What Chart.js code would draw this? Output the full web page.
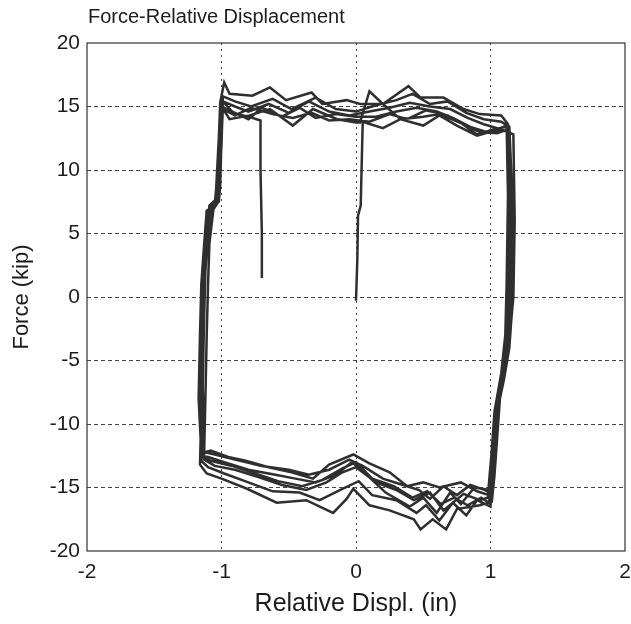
<!DOCTYPE html>
<html>
<head>
<meta charset="utf-8">
<script src="https://cdn.jsdelivr.net/npm/chart.js@4"></script>
<style>
  html, body { margin: 0; padding: 0; background: #fff; }
  #wrap { width: 631px; height: 624px; }
</style>
</head>
<body>
<div id="wrap"><canvas id="chart" width="631" height="624"></canvas></div>
<script>
// axis ticks
const xTicks = [-2, -1, 0, 1, 2];
const yTicks = [-20, -15, -10, -5, 0, 5, 10, 15, 20];

// cycles, [displ (in), force (kip)]
// first loading from the origin, then right down and back along the bottom
const cycle1 = [[0,-0.3],[0.01,3],[0.015,6.4],[0.035,7.2],[0.05,13.8],[0.2,13.3],[0.33,14.0],[0.5,14.2],[0.62,14.4],[0.78,13.7],[0.9,12.8],[1.02,13.2],[1.12,13.4],[1.14,8],[1.14,2],[1.13,-2],[1.1,-5],[1.05,-8],[1.03,-11],[1.01,-14],[0.99,-15.6],[0.9,-15.3],[0.78,-14.6],[0.62,-15.0],[0.5,-14.6],[0.38,-14.9],[0.25,-13.8],[0.1,-13.1],[-0.02,-12.4],[-0.2,-13.2],[-0.32,-14.3],[-0.48,-13.8],[-0.65,-13.4],[-0.82,-12.9],[-0.95,-12.6],[-1.08,-12.1],[-1.15,-12.3]];
const cycle2 = [[-1.17,-8],[-1.16,-3],[-1.15,1],[-1.13,4],[-1.11,6.8],[-1.05,7.2],[-1.04,8.4],[-1.02,12],[-1.01,15.3],[-0.98,16.9],[-0.94,16.0],[-0.77,15.85],[-0.64,16.5],[-0.52,15.5],[-0.33,16.1],[-0.25,15.2],[-0.07,15.5],[0.03,15.2],[0.2,15.2],[0.39,16.6],[0.48,15.7],[0.65,15.7],[0.8,14.8],[0.92,14.4],[1.08,14.3],[1.13,13.6],[1.16,8],[1.16,2],[1.15,-2],[1.12,-5],[1.07,-8],[1.05,-11],[1.03,-14],[1.01,-16.1],[0.92,-16.4],[0.75,-16.7],[0.67,-18.3],[0.57,-17.5],[0.48,-18.3],[0.43,-17.5],[0.25,-16.8],[0.1,-16.4],[-0.02,-15.1],[-0.07,-15.9],[-0.17,-17.0],[-0.37,-16.0],[-0.59,-16.2],[-0.81,-15.1],[-1.0,-14.3],[-1.11,-13.9],[-1.16,-13.2]];
const cycle3 = [[-1.15,-9],[-1.14,-4],[-1.13,0],[-1.11,4.5],[-1.08,7],[-1.03,7.5],[-1.02,8.6],[-1.0,12.5],[-1.0,15.0],[-0.94,14.0],[-0.79,14.3],[-0.64,14.8],[-0.47,13.5],[-0.32,14.8],[-0.14,14.0],[0.0,13.75],[0.03,13.75],[0.1,16.2],[0.2,15.2],[0.33,14.0],[0.5,13.5],[0.62,14.3],[0.75,13.5],[0.9,12.7],[1.0,13.0],[1.12,13.5],[1.13,8],[1.12,1],[1.11,-3],[1.08,-6],[1.03,-9],[1.01,-12],[0.99,-14.5],[0.98,-15.8],[0.92,-16.0],[0.8,-15.5],[0.65,-16.8],[0.55,-15.4],[0.43,-16.0],[0.3,-15.2],[0.15,-14.6],[0.0,-13.4],[-0.1,-13.8],[-0.22,-14.6],[-0.37,-15.2],[-0.55,-14.8],[-0.72,-14.2],[-0.9,-13.6],[-1.05,-13.3],[-1.13,-12.8]];
const cycle4 = [[-1.12,-8],[-1.11,-3],[-1.1,1],[-1.09,4.2],[-1.06,6.9],[-1.03,7.4],[-1.02,8.3],[-1.0,12],[-0.99,15.4],[-0.9,15.0],[-0.8,14.6],[-0.65,15.2],[-0.5,14.5],[-0.35,15.4],[-0.2,14.6],[-0.05,14.3],[0.1,14.6],[0.25,14.9],[0.4,15.3],[0.55,15.0],[0.7,14.8],[0.83,14.1],[0.95,13.6],[1.08,13.2],[1.13,13.0],[1.16,7],[1.15,0],[1.14,-3],[1.11,-5],[1.06,-7.5],[1.03,-10.5],[1.02,-14],[1.0,-15.2],[0.88,-15.0],[0.78,-16.3],[0.7,-15.4],[0.6,-17.0],[0.5,-15.8],[0.4,-16.5],[0.22,-15.4],[0.08,-14.0],[-0.03,-13.0],[-0.15,-14.0],[-0.3,-14.6],[-0.45,-14.3],[-0.6,-14.0],[-0.8,-13.6],[-0.95,-13.1],[-1.1,-12.6],[-1.14,-12.5]];
const cycle5 = [[-1.15,-7],[-1.14,-2],[-1.13,2],[-1.11,5],[-1.09,7.2],[-1.04,7.7],[-1.02,9],[-1.0,13],[-0.99,15.8],[-0.9,15.4],[-0.78,15.0],[-0.62,15.6],[-0.48,14.8],[-0.3,15.7],[-0.15,14.8],[0.0,14.6],[0.15,15.1],[0.3,15.5],[0.42,16.0],[0.55,15.2],[0.68,15.4],[0.82,14.5],[0.95,14.0],[1.08,13.8],[1.14,13.4],[1.17,6],[1.16,-1],[1.14,-4],[1.1,-6.5],[1.05,-9],[1.03,-12],[1.01,-15],[1.0,-16.5],[0.9,-16.0],[0.82,-17.2],[0.72,-16.2],[0.62,-17.6],[0.52,-16.4],[0.45,-17.0],[0.3,-16.0],[0.12,-15.6],[0.02,-14.5],[-0.12,-15.2],[-0.27,-16.0],[-0.42,-15.4],[-0.62,-15.3],[-0.8,-14.6],[-0.98,-13.9],[-1.1,-13.4],[-1.15,-12.9]];
const cycle6 = [[-1.16,-6],[-1.15,-1],[-1.13,3],[-1.11,5.5],[-1.08,7],[-1.03,7.6],[-1.02,8.8],[-1.01,13],[-1.0,15.5],[-0.92,14.6],[-0.8,14.0],[-0.7,14.9],[-0.55,14.2],[-0.42,14.9],[-0.3,14.1],[-0.15,14.4],[0.0,14.2],[0.15,14.2],[0.3,14.6],[0.45,14.9],[0.6,14.6],[0.72,14.1],[0.85,13.4],[0.97,13.0],[1.1,13.1],[1.17,12.8],[1.18,6],[1.17,0],[1.14,-3.5],[1.1,-6],[1.05,-9],[1.03,-12.5],[1.01,-15.5],[0.96,-15.2],[0.85,-14.8],[0.75,-15.6],[0.65,-14.9],[0.55,-15.9],[0.47,-15.2],[0.35,-14.8],[0.2,-14.3],[0.05,-13.3],[-0.05,-12.8],[-0.2,-13.6],[-0.35,-14.0],[-0.5,-13.6],[-0.7,-13.3],[-0.9,-12.8],[-1.05,-12.4],[-1.13,-12.2]];
const cycle7 = [[-1.14,-7],[-1.13,-2],[-1.12,2],[-1.1,5],[-1.07,7.1],[-1.02,7.5],[-1.01,8.7],[-1.0,12.5],[-0.99,14.8],[-0.9,14.3],[-0.78,14.9],[-0.62,14.4],[-0.47,14.1],[-0.33,14.5],[-0.2,13.9],[-0.05,14.0],[0.1,13.8],[0.25,14.4],[0.38,14.0],[0.52,14.7],[0.68,14.3],[0.8,13.6],[0.92,13.0],[1.05,12.9],[1.13,13.2],[1.15,5],[1.14,-1],[1.12,-4],[1.08,-6],[1.04,-8.5],[1.02,-11.5],[1.0,-14.5],[0.99,-16.2],[0.93,-15.8],[0.83,-16.4],[0.73,-15.8],[0.63,-16.3],[0.53,-15.3],[0.42,-15.8],[0.28,-14.9],[0.12,-14.3],[0.0,-13.0],[-0.1,-13.5],[-0.25,-14.4],[-0.4,-14.9],[-0.58,-14.5],[-0.75,-13.9],[-0.92,-13.3],[-1.08,-12.9],[-1.14,-12.6]];
// last climb, then unloading at about -0.7 in
const unload = [[-1.16,-8],[-1.15,-3],[-1.14,1],[-1.12,4.5],[-1.09,7],[-1.05,7.4],[-1.04,8.5],[-1.02,12.5],[-1.01,15.1],[-0.92,14.5],[-0.8,14.2],[-0.71,13.9],[-0.71,10],[-0.70,5],[-0.70,1.5]];

const path = [].concat(cycle1, cycle2, cycle3, cycle4, cycle5, cycle6, cycle7, unload)
  .map(p => ({ x: p[0], y: p[1] }));

const FONT = "'Liberation Sans', Arial, sans-serif";
const ink = '#1c1c1c';

// grid lines on the frame are hidden, the frame is drawn solid
const gridColor = edge => ctx => (ctx.tick && Math.abs(ctx.tick.value) === edge) ? 'rgba(0,0,0,0)' : '#454545';

const framePlugin = {
  id: 'frame',
  afterDraw(chart) {
    const { ctx, chartArea: a } = chart;
    ctx.save();
    ctx.strokeStyle = '#333';
    ctx.lineWidth = 1.2;
    ctx.strokeRect(a.left, a.top, a.right - a.left, a.bottom - a.top);
    // title, left aligned on the plot box
    ctx.fillStyle = ink;
    ctx.font = '20px ' + FONT;
    ctx.textAlign = 'left';
    ctx.textBaseline = 'middle';
    ctx.fillText('Force-Relative Displacement', a.left + 1, 17);
    ctx.restore();
  }
};

new Chart(document.getElementById('chart').getContext('2d'), {
  type: 'scatter',
  data: {
    datasets: [{
      data: path,
      showLine: true,
      borderColor: '#2f2f2f',
      borderWidth: 2.5,
      pointRadius: 0,
      tension: 0
    }]
  },
  plugins: [framePlugin],
  options: {
    responsive: false,
    animation: false,
    layout: { padding: { top: 43, right: 6, left: 0, bottom: 0 } },
    plugins: { legend: { display: false }, tooltip: { enabled: false } },
    scales: {
      x: {
        type: 'linear',
        min: xTicks[0],
        max: xTicks[xTicks.length - 1],
        afterBuildTicks: s => { s.ticks = xTicks.map(v => ({ value: v })); },
        afterFit: s => { s.height = 73; s.paddingLeft = 0; s.paddingRight = 0; },
        grid: { color: gridColor(2), lineWidth: 1, drawTicks: false },
        border: { display: false, dash: [2, 4] },
        ticks: { color: ink, font: { family: FONT, size: 21 }, padding: 9, maxRotation: 0 },
        title: { display: true, text: 'Relative Displ. (in)', color: ink, font: { family: FONT, size: 25 }, padding: { top: 0, bottom: 5 } }
      },
      y: {
        type: 'linear',
        min: yTicks[0],
        max: yTicks[yTicks.length - 1],
        afterBuildTicks: s => { s.ticks = yTicks.map(v => ({ value: v })); },
        afterFit: s => { s.width = 87; s.paddingTop = 0; s.paddingBottom = 0; },
        grid: { color: gridColor(20), lineWidth: 1, drawTicks: false },
        border: { display: false, dash: [4, 3] },
        ticks: { color: ink, font: { family: FONT, size: 21 }, padding: 7 },
        title: { display: true, text: 'Force (kip)', color: ink, font: { family: FONT, size: 22 }, padding: { top: 9, bottom: 0 } }
      }
    }
  }
});
</script>
</body>
</html>
